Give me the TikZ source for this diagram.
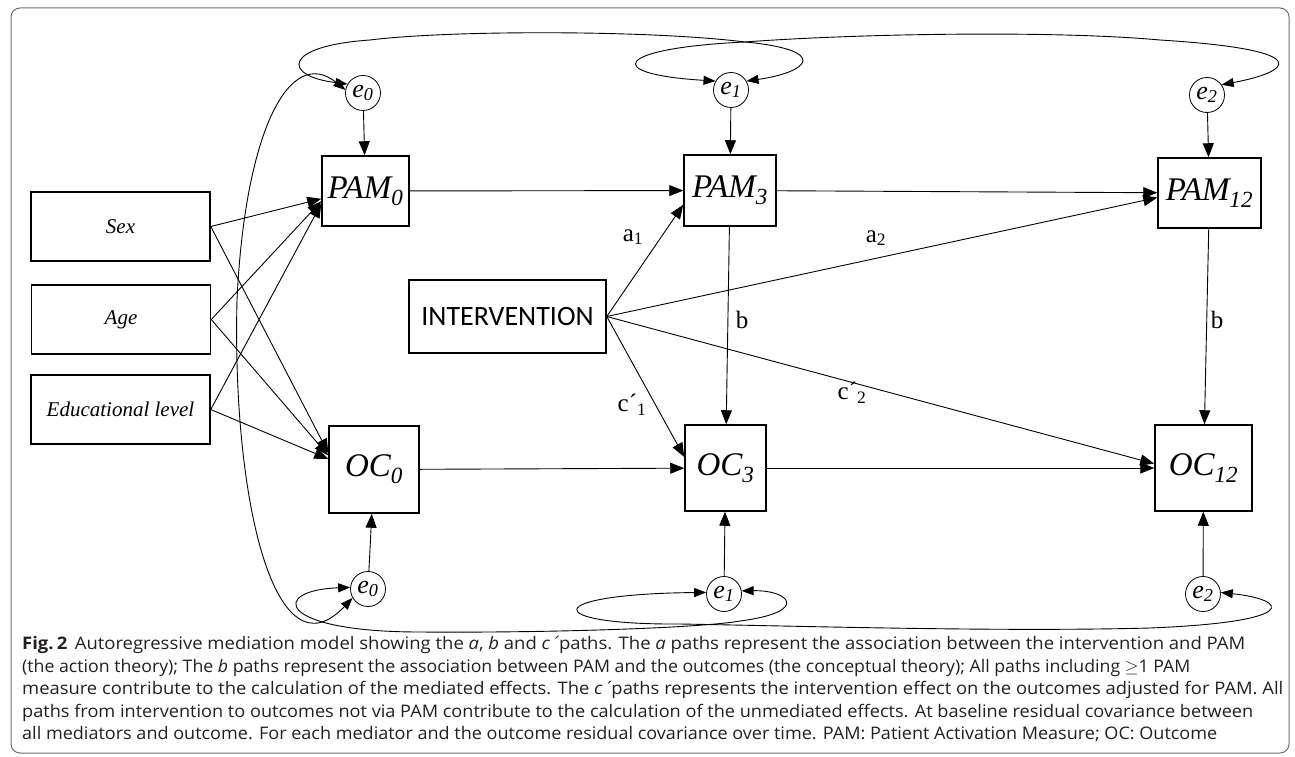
\documentclass[tikz,border=0pt]{standalone}
\usepackage{fontspec}
\setmainfont{Liberation Serif}
\newfontfamily\capfont{Open Sans}
\newfontfamily\intfont{Carlito}
\usepackage{xcolor}
\usepackage{graphicx}
\usetikzlibrary{arrows.meta}
\definecolor{framegray}{HTML}{6E6E6E}
\definecolor{captext}{HTML}{231F20}
\newcommand{\capline}[2]{\resizebox{#1}{\height}{#2}}

\begin{document}
\begin{tikzpicture}[x=1pt,y=-1pt,
    var/.style={shape=rectangle,draw=black,line width=1.5pt,inner sep=0pt},
    covar/.style={var,minimum width=179pt,minimum height=69pt,font=\fontsize{21}{21}\selectfont\itshape},
    obs/.style={var,font=\fontsize{33}{33}\selectfont\itshape},
    err/.style={shape=circle,draw=black,line width=0.8pt,minimum size=35pt,inner sep=0pt,font=\fontsize{26}{26}\selectfont\itshape},
    reg/.style={line width=0.9pt,-{Triangle[length=14pt,width=11pt]}},
    cov/.style={line width=0.9pt,{Triangle[length=12pt,width=9pt]}-{Triangle[length=12pt,width=9pt]}},
    coef/.style={inner sep=0pt,font=\fontsize{25}{25}\selectfont}]

\useasboundingbox (0,0) rectangle (1295,757);
\draw[framegray,line width=1pt,rounded corners=9pt] (11,8) rectangle (1289,753);

\node[covar] (sex) at (120.5,226.5) {Sex};
\node[covar] (age) at (121,319.5) {Age};
\node[covar] (edu) at (120.5,409.5) {Educational level};

\node[obs,minimum width=87pt,minimum height=70pt] (pam0) at (365.5,191) {PAM\textsubscript{0}};
\node[obs,minimum width=92pt,minimum height=71pt] (pam3) at (730,190.5) {PAM\textsubscript{3}};
\node[obs,minimum width=103pt,minimum height=70pt] (pam12) at (1209.5,193) {PAM\textsubscript{12}};
\node[obs,minimum width=90pt,minimum height=87pt] (oc0) at (374,469.5) {OC\textsubscript{0}};
\node[obs,minimum width=81pt,minimum height=86pt] (oc3) at (725.5,468) {OC\textsubscript{3}};
\node[obs,minimum width=97pt,minimum height=86pt] (oc12) at (1203.5,468) {OC\textsubscript{12}};

\node[var,minimum width=197pt,minimum height=73pt,font=\intfont\fontsize{28}{28}\selectfont] (int) at (507.5,316.5) {INTERVENTION};

\node[err] (e0t) at (363,93) {e\textsubscript{0}};
\node[err] (e1t) at (731,90) {e\textsubscript{1}};
\node[err] (e2t) at (1207,95) {e\textsubscript{2}};
\node[err] (e0b) at (368,589) {e\textsubscript{0}};
\node[err] (e1b) at (724,594) {e\textsubscript{1}};
\node[err] (e2b) at (1203,594) {e\textsubscript{2}};

\node[coef] (a1) at (633,237) {a\textsubscript{1}};
\node[coef] (a2) at (876,238) {a\textsubscript{2}};
\node[coef] (b1) at (742,320) {b};
\node[coef] (b2) at (1217,320) {b};
\node[coef] (c1) at (632,405) {c´\textsubscript{1}};
\node[coef] (c2) at (852,393) {c´\textsubscript{2}};

\draw[reg] (sex.east) -- (pam0.190);
\draw[reg] (sex.east) -- (oc0.160);
\draw[reg] (age.east) -- (pam0.193);
\draw[reg] (age.east) -- (oc0.163);
\draw[reg] (edu.east) -- (pam0.196);
\draw[reg] (edu.east) -- (oc0.167);

\draw[reg] (pam0) -- (pam3);
\draw[reg] (pam3) -- (pam12);
\draw[reg] (oc0) -- (oc3);
\draw[reg] (oc3) -- (oc12);
\draw[reg] (pam3) -- (oc3);
\draw[reg] (pam12) -- (oc12);

\draw[reg] (int.east) -- (pam3.197);
\draw[reg] (int.east) -- (pam12.185);
\draw[reg] (int.east) -- (oc3.165);
\draw[reg] (int.east) -- (oc12.175);

\draw[reg] (e0t) -- (pam0);
\draw[reg] (e1t) -- (pam3);
\draw[reg] (e2t) -- (pam12);
\draw[reg] (e0b) -- (oc0);
\draw[reg] (e1b) -- (oc3);
\draw[reg] (e2b) -- (oc12);

\draw[cov] (e0t.150) .. controls (282,76) and (282,46) .. (370,40) .. controls (450,30) and (650,30) .. (745,42) .. controls (830,50) and (810,72) .. (e1t.30);
\draw[cov] (e1t.150) .. controls (600,74) and (615,48) .. (745,42) .. controls (850,34) and (1050,30) .. (1160,40) .. controls (1320,50) and (1290,72) .. (e2t.35);
\draw[cov] (e0t.170) .. controls (290,45) and (245,130) .. (237,300) .. controls (232,500) and (275,680) .. (e0b.210);
\draw[cov] (e0b.175) .. controls (270,590) and (275,632) .. (420,632) .. controls (550,633) and (700,628) .. (740,621) .. controls (810,612) and (790,590) .. (e1b.10);
\draw[cov] (e1b.175) .. controls (540,594) and (540,625) .. (680,624) .. controls (800,626) and (1000,632) .. (1150,628) .. controls (1300,622) and (1290,600) .. (e2b.5);

\node[anchor=north west,inner sep=0pt,align=left,text=captext,font=\capfont\fontsize{17.3}{22.6}\selectfont] (caption) at (22,636) {\capline{1223pt}{\textbf{Fig.\,2}\hspace{7pt}Autoregressive mediation model showing the \textit{a}, \textit{b} and \textit{c\,´} paths. The \textit{a} paths represent the association between the intervention and PAM}\\
\capline{1168pt}{(the action theory); The \textit{b} paths represent the association between PAM and the outcomes (the conceptual theory); All paths including $\geq$1 PAM}\\
\capline{1261pt}{measure contribute to the calculation of the mediated effects. The \textit{c\,´} paths represents the intervention effect on the outcomes adjusted for PAM. All}\\
\capline{1231pt}{paths from intervention to outcomes not via PAM contribute to the calculation of the unmediated effects. At baseline residual covariance between}\\
\capline{1195pt}{all mediators and outcome. For each mediator and the outcome residual covariance over time. PAM: Patient Activation Measure; OC: Outcome}};
\end{tikzpicture}
\end{document}
